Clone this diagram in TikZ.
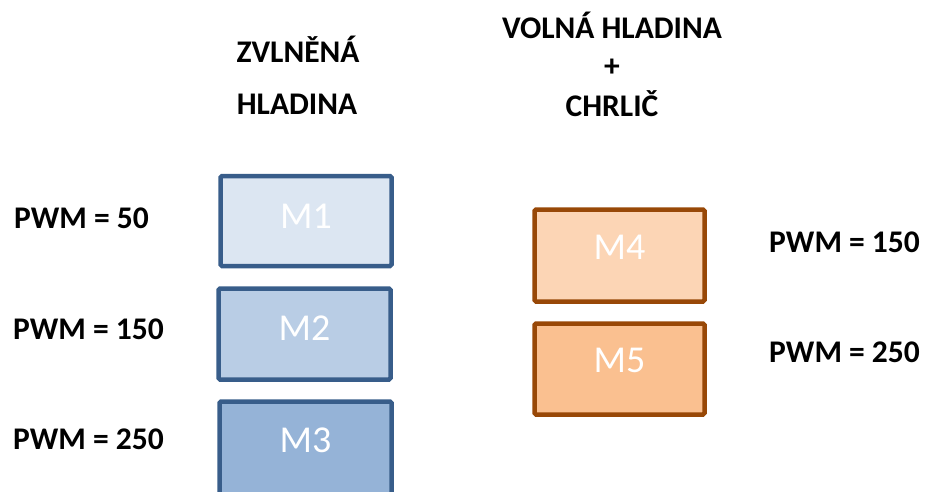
\documentclass[tikz,border=0pt]{standalone}
\usepackage{fontspec}
\setmainfont{Carlito}
\definecolor{bline}{HTML}{385D8A}
\definecolor{oline}{HTML}{984807}
\definecolor{bA}{HTML}{DCE6F2}
\definecolor{bB}{HTML}{B9CDE5}
\definecolor{bC}{HTML}{95B3D7}
\definecolor{oA}{HTML}{FCD5B5}
\definecolor{oB}{HTML}{FAC090}
\tikzset{
  mbox/.style={draw, line width=4.5pt, rounded corners=1.5pt, inner sep=0pt,
    text=white, font=\fontsize{38}{42}\selectfont},
  bluebox/.style={mbox, draw=bline},
  orangebox/.style={mbox, draw=oline},
  lbl/.style={inner sep=0pt, font=\bfseries\fontsize{31.5}{36}\selectfont},
}
\begin{document}
\begin{tikzpicture}[x=1pt,y=-1pt]
\useasboundingbox (0,0) rectangle (929,492);
\clip (0,0) rectangle (929,492);
% headings
\node[lbl, anchor=base] (h1) at (298,63) {ZVLNĚNÁ};
\node[lbl, anchor=base] (h2) at (297,115) {HLADINA};
\node[lbl, anchor=base] (h3) at (612,39) {VOLNÁ HLADINA};
\node[lbl, anchor=base] (h4) at (612,77) {+};
\node[lbl, anchor=base] (h5) at (612,117) {CHRLIČ};
% boxes
\node[bluebox, fill=bA, minimum width=171, minimum height=90, text depth=10pt] (m1) at (306,221) {M1};
\node[bluebox, fill=bB, minimum width=172, minimum height=91, text depth=12pt] (m2) at (304.5,334) {M2};
\node[bluebox, fill=bC, minimum width=172, minimum height=94.5, text depth=17.5pt] (m3) at (305.5,448.75) {M3};
\node[orangebox, fill=oA, minimum width=170, minimum height=92, text depth=17pt] (m4) at (619.5,255.5) {M4};
\node[orangebox, fill=oB, minimum width=170, minimum height=91, text depth=18pt] (m5) at (619.5,369) {M5};
% PWM labels
\node[lbl, anchor=base west] (p1) at (14,228) {PWM = 50};
\node[lbl, anchor=base west] (p2) at (13,339) {PWM = 150};
\node[lbl, anchor=base west] (p3) at (13,449) {PWM = 250};
\node[lbl, anchor=base west] (p4) at (769,252) {PWM = 150};
\node[lbl, anchor=base west] (p5) at (769,362) {PWM = 250};
\end{tikzpicture}
\end{document}
